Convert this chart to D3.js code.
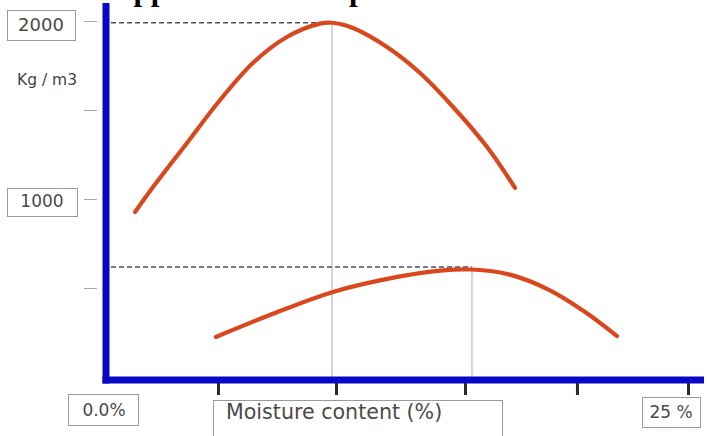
<!DOCTYPE html>
<html>
<head>
<meta charset="utf-8">
<script src="https://cdn.jsdelivr.net/npm/d3@7"></script>
<style>
  html, body { margin: 0; padding: 0; background: #fff; }
  svg { display: block; }
</style>
</head>
<body>
<svg id="chart" width="710" height="436"></svg>
<script>
// ---- data ----
const titleText = "Approximate compaction curves";
const yAxisTitle = "Kg / m3";
const xAxisTitle = "Moisture content (%)";
const yTickValues = [500, 1000, 1500, 2000];
const yTickLabels = ["1000", "2000"];
const xTickValues = [4.81, 9.88, 15.42, 20.23, 25];
const xEndLabels = ["0.0%", "25 %"];

// upper curve (density vs moisture)
const upperMoisture = [1.25, 2.02, 3.48, 4.90, 6.31, 7.77, 9.19, 9.71, 10.61, 12.07, 13.49, 14.91, 16.37, 17.57];
const upperDensity  = [927, 1067, 1315, 1556, 1764, 1910, 1985, 1990, 1961, 1854, 1708, 1517, 1292, 1062];
// lower curve
const lowerMoisture = [4.72, 7.04, 9.75, 12.63, 14.35, 15.72, 17.35, 19.07, 20.58, 21.95];
const lowerDensity  = [225, 348, 478, 565, 598, 604, 575, 487, 365, 230];
// optimum markers [moisture, density]
const optimumMoisture = [9.71, 15.72];
const optimumDensity  = [1990, 618];

// ---- layout ----
const svg = d3.select("#chart");
const x = d3.scaleLinear().domain([0, 25]).range([106, 688]);
const y = d3.scaleLinear().domain([0, 2000]).range([377, 21]);
const axisY = 380;
const blue = "#0808c4";
const curveColor = "#d9481c";
const font = "'DejaVu Sans', Verdana, sans-serif";

// title (mostly cut off at top, as in the reference)
svg.append("text")
  .attr("x", 111).attr("y", -0.5)
  .attr("font-family", "'Liberation Serif', 'Times New Roman', serif")
  .attr("font-weight", "bold").attr("font-size", 31)
  .attr("fill", "#000")
  .text(titleText);

// y ticks (small grey)
const yAxisG = svg.append("g")
  .attr("transform", `translate(97,0)`)
  .call(d3.axisLeft(y).tickValues(yTickValues).tickSize(13).tickFormat(""));
yAxisG.select(".domain").remove();
yAxisG.selectAll(".tick line").attr("stroke", "#aaa").attr("stroke-width", 1);

// optimum guide lines
const guides = optimumMoisture.map((m, i) => ({ m, d: optimumDensity[i] }));
svg.selectAll(".vguide").data(guides).enter().append("line")
  .attr("class", "vguide")
  .attr("x1", d => x(d.m)).attr("x2", d => x(d.m))
  .attr("y1", d => y(d.d)).attr("y2", axisY - 3)
  .attr("stroke", "#bbb").attr("stroke-width", 1.2);
svg.selectAll(".hguide").data(guides).enter().append("line")
  .attr("class", "hguide")
  .attr("x1", x(0) + 5).attr("x2", d => x(d.m))
  .attr("y1", d => y(d.d)).attr("y2", d => y(d.d))
  .attr("stroke", "#4a4f66").attr("stroke-width", 1.6)
  .attr("stroke-dasharray", "5,3");

// x axis (blue domain + dark ticks)
const xAxisG = svg.append("g")
  .attr("transform", `translate(0,${axisY})`)
  .call(d3.axisBottom(x).tickValues(xTickValues).tickSize(15).tickSizeOuter(0).tickFormat(""));
xAxisG.select(".domain").remove();
xAxisG.selectAll(".tick line").attr("stroke", "#2a2a2a").attr("stroke-width", 3);
svg.append("line")
  .attr("x1", x(0) - 3.5).attr("x2", 704)
  .attr("y1", axisY).attr("y2", axisY)
  .attr("stroke", blue).attr("stroke-width", 7);
// y axis blue line
svg.append("line")
  .attr("x1", x(0)).attr("x2", x(0))
  .attr("y1", 3).attr("y2", axisY + 3.5)
  .attr("stroke", blue).attr("stroke-width", 7);

// curves
const line = d3.line().x(d => x(d[0])).y(d => y(d[1])).curve(d3.curveCatmullRom.alpha(0.5));
const upper = upperMoisture.map((m, i) => [m, upperDensity[i]]);
const lower = lowerMoisture.map((m, i) => [m, lowerDensity[i]]);
svg.selectAll(".curve").data([upper, lower]).enter().append("path")
  .attr("class", "curve")
  .attr("d", line)
  .attr("fill", "none")
  .attr("stroke", curveColor)
  .attr("stroke-width", 4.2)
  .attr("stroke-linecap", "round");

// boxed labels
function boxLabel(bx, by, bw, bh, text, tx, ty, size, anchor) {
  svg.append("rect")
    .attr("x", bx + 0.5).attr("y", by + 0.5).attr("width", bw).attr("height", bh)
    .attr("fill", "#fff").attr("stroke", "#9a9a9a").attr("stroke-width", 1);
  svg.append("text")
    .attr("x", tx).attr("y", ty)
    .attr("text-anchor", anchor || "middle")
    .attr("font-family", font).attr("font-size", size)
    .attr("fill", "#4a4a4a")
    .text(text);
}
boxLabel(7, 10, 68, 30, yTickLabels[1], 41, y(2000) + 10, 18);
boxLabel(7, 188, 70, 28, yTickLabels[0], 42, y(1000) + 8, 17);
boxLabel(68, 394, 70, 31, xEndLabels[0], x(0) - 2, 416, 17);
boxLabel(642, 397, 58, 30, xEndLabels[1], x(25) - 17, 418, 17);
boxLabel(213, 400, 289, 40, xAxisTitle, 226, 419, 20.6, "start");

// y axis title
svg.append("text")
  .attr("x", 17).attr("y", 85)
  .attr("font-family", font).attr("font-size", 15.5)
  .attr("fill", "#444")
  .text(yAxisTitle);
</script>
</body>
</html>
